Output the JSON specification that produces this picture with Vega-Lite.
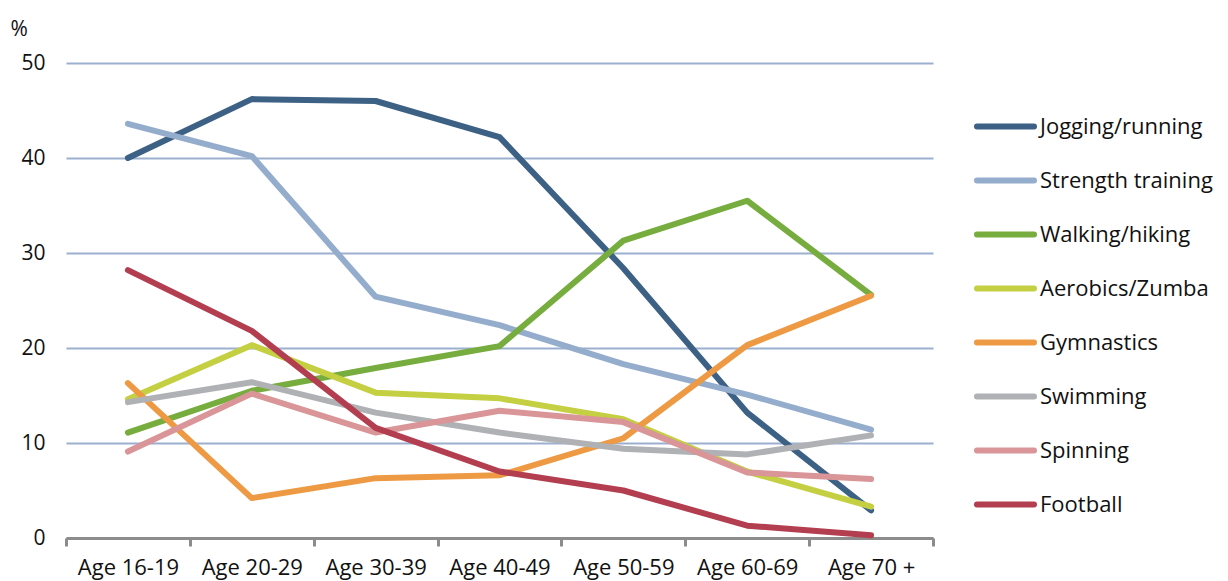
{
  "$schema": "https://vega.github.io/schema/vega-lite/v6.json",
  "width": 867,
  "height": 475,
  "autosize": "none",
  "padding": {"left": 66, "top": 63, "right": 295, "bottom": 43},
  "background": "white",
  "config": {"view": {"stroke": null}, "font": "Open Sans"},
  "data": {"values": [
    {"sport": "Jogging/running", "age": "Age 16-19", "v": 40.0},
    {"sport": "Jogging/running", "age": "Age 20-29", "v": 46.2},
    {"sport": "Jogging/running", "age": "Age 30-39", "v": 46.0},
    {"sport": "Jogging/running", "age": "Age 40-49", "v": 42.2},
    {"sport": "Jogging/running", "age": "Age 50-59", "v": 28.4},
    {"sport": "Jogging/running", "age": "Age 60-69", "v": 13.2},
    {"sport": "Jogging/running", "age": "Age 70 +", "v": 2.9},
    {"sport": "Strength training", "age": "Age 16-19", "v": 43.6},
    {"sport": "Strength training", "age": "Age 20-29", "v": 40.2},
    {"sport": "Strength training", "age": "Age 30-39", "v": 25.4},
    {"sport": "Strength training", "age": "Age 40-49", "v": 22.4},
    {"sport": "Strength training", "age": "Age 50-59", "v": 18.3},
    {"sport": "Strength training", "age": "Age 60-69", "v": 15.1},
    {"sport": "Strength training", "age": "Age 70 +", "v": 11.4},
    {"sport": "Walking/hiking", "age": "Age 16-19", "v": 11.1},
    {"sport": "Walking/hiking", "age": "Age 20-29", "v": 15.5},
    {"sport": "Walking/hiking", "age": "Age 30-39", "v": 17.9},
    {"sport": "Walking/hiking", "age": "Age 40-49", "v": 20.2},
    {"sport": "Walking/hiking", "age": "Age 50-59", "v": 31.3},
    {"sport": "Walking/hiking", "age": "Age 60-69", "v": 35.5},
    {"sport": "Walking/hiking", "age": "Age 70 +", "v": 25.6},
    {"sport": "Aerobics/Zumba", "age": "Age 16-19", "v": 14.6},
    {"sport": "Aerobics/Zumba", "age": "Age 20-29", "v": 20.3},
    {"sport": "Aerobics/Zumba", "age": "Age 30-39", "v": 15.3},
    {"sport": "Aerobics/Zumba", "age": "Age 40-49", "v": 14.7},
    {"sport": "Aerobics/Zumba", "age": "Age 50-59", "v": 12.5},
    {"sport": "Aerobics/Zumba", "age": "Age 60-69", "v": 7.0},
    {"sport": "Aerobics/Zumba", "age": "Age 70 +", "v": 3.3},
    {"sport": "Gymnastics", "age": "Age 16-19", "v": 16.3},
    {"sport": "Gymnastics", "age": "Age 20-29", "v": 4.2},
    {"sport": "Gymnastics", "age": "Age 30-39", "v": 6.3},
    {"sport": "Gymnastics", "age": "Age 40-49", "v": 6.6},
    {"sport": "Gymnastics", "age": "Age 50-59", "v": 10.5},
    {"sport": "Gymnastics", "age": "Age 60-69", "v": 20.3},
    {"sport": "Gymnastics", "age": "Age 70 +", "v": 25.5},
    {"sport": "Swimming", "age": "Age 16-19", "v": 14.3},
    {"sport": "Swimming", "age": "Age 20-29", "v": 16.4},
    {"sport": "Swimming", "age": "Age 30-39", "v": 13.2},
    {"sport": "Swimming", "age": "Age 40-49", "v": 11.1},
    {"sport": "Swimming", "age": "Age 50-59", "v": 9.4},
    {"sport": "Swimming", "age": "Age 60-69", "v": 8.8},
    {"sport": "Swimming", "age": "Age 70 +", "v": 10.8},
    {"sport": "Spinning", "age": "Age 16-19", "v": 9.1},
    {"sport": "Spinning", "age": "Age 20-29", "v": 15.2},
    {"sport": "Spinning", "age": "Age 30-39", "v": 11.1},
    {"sport": "Spinning", "age": "Age 40-49", "v": 13.4},
    {"sport": "Spinning", "age": "Age 50-59", "v": 12.2},
    {"sport": "Spinning", "age": "Age 60-69", "v": 6.9},
    {"sport": "Spinning", "age": "Age 70 +", "v": 6.2},
    {"sport": "Football", "age": "Age 16-19", "v": 28.2},
    {"sport": "Football", "age": "Age 20-29", "v": 21.8},
    {"sport": "Football", "age": "Age 30-39", "v": 11.6},
    {"sport": "Football", "age": "Age 40-49", "v": 7.0},
    {"sport": "Football", "age": "Age 50-59", "v": 5.0},
    {"sport": "Football", "age": "Age 60-69", "v": 1.3},
    {"sport": "Football", "age": "Age 70 +", "v": 0.3}
  ]},
  "mark": {"type": "line", "strokeWidth": 6, "strokeCap": "round", "strokeJoin": "round"},
  "encoding": {
    "x": {
      "field": "age", "type": "nominal", "sort": null,
      "scale": {"type": "band", "paddingInner": 0, "paddingOuter": 0},
      "axis": {
        "title": null, "labelAngle": 0, "labelFontSize": 22, "labelColor": "#111",
        "labelPadding": 11, "domainColor": "#8c8c8c", "domainWidth": 3,
        "tickColor": "#8c8c8c", "tickWidth": 3, "tickSize": 8, "tickBand": "extent",
        "grid": false
      }
    },
    "y": {
      "field": "v", "type": "quantitative",
      "scale": {"domain": [0, 50]},
      "axis": {
        "values": [0, 10, 20, 30, 40, 50], "title": "%", "titleAngle": 0,
        "titleX": -56, "titleY": -34, "titleAlign": "left", "titleBaseline": "middle",
        "titleFontSize": 21, "titleFontWeight": "normal", "titleColor": "#111",
        "labelFontSize": 21, "labelColor": "#111", "labelPadding": 21,
        "domain": false, "ticks": false, "grid": true, "gridColor": "#9bb0cf", "gridWidth": 2
      }
    },
    "color": {
      "field": "sport", "type": "nominal", "sort": null,
      "scale": {
        "domain": ["Jogging/running", "Strength training", "Walking/hiking", "Aerobics/Zumba", "Gymnastics", "Swimming", "Spinning", "Football"],
        "range": ["#3d6184", "#95adcc", "#77ac3f", "#c4cf42", "#ee9a44", "#b0b1b5", "#d99597", "#b23e4f"]
      },
      "legend": {
        "title": null, "orient": "none", "legendX": 908, "legendY": 32,
        "symbolType": "stroke", "symbolSize": 3249, "symbolStrokeWidth": 6,
        "labelFontSize": 22, "labelColor": "#111", "labelOffset": 3,
        "rowPadding": 10, "labelLimit": 300,
        "encode": {"symbols": {"update": {"strokeCap": {"value": "round"}}}}
      }
    }
  }
}
